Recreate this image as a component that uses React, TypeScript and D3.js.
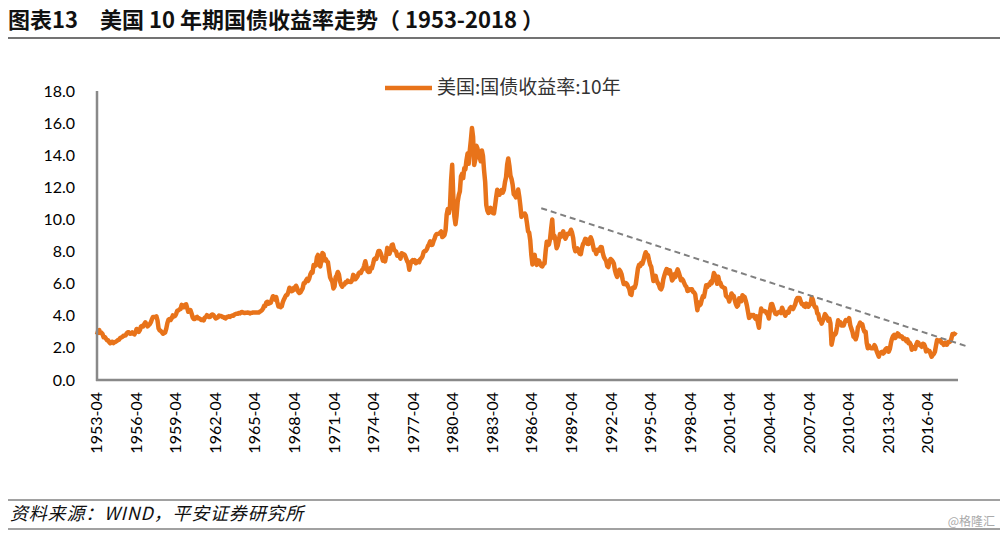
import React from "react";
import * as d3 from "d3";

// Monthly US 10Y Treasury yield (%), starting 1953-04
const y1950s: number[] = [
  2.83, 3.05, 3.11, 2.93, 2.95, 2.87, 2.66, 2.68, 2.59,
  2.48, 2.47, 2.37, 2.29, 2.37, 2.38, 2.30, 2.36, 2.38, 2.43, 2.48, 2.51,
  2.61, 2.65, 2.68, 2.75, 2.76, 2.78, 2.90, 2.97, 2.97, 2.88, 2.89, 2.96,
  2.90, 2.84, 2.96, 3.18, 3.07, 3.00, 3.11, 3.33, 3.38, 3.34, 3.49, 3.59,
  3.46, 3.34, 3.41, 3.48, 3.60, 3.80, 3.93, 3.93, 3.92, 3.97, 3.72, 3.21,
  3.09, 3.05, 2.98, 2.88, 2.92, 2.97, 3.20, 3.54, 3.76, 3.80, 3.74, 3.86,
  4.02, 3.96, 3.99, 4.12, 4.31, 4.34, 4.40, 4.43, 4.68, 4.53, 4.53, 4.69,
];
const y1960s: number[] = [
  4.72, 4.49, 4.25, 4.28, 4.35, 4.15, 3.90, 3.80, 3.80, 3.89, 3.93, 3.84,
  3.84, 3.78, 3.74, 3.78, 3.71, 3.88, 3.92, 4.04, 3.98, 3.92, 3.94, 4.06,
  4.08, 4.04, 3.93, 3.84, 3.87, 3.91, 4.01, 3.98, 3.98, 3.93, 3.92, 3.86,
  3.83, 3.92, 3.93, 3.97, 3.93, 3.99, 4.02, 4.00, 4.08, 4.11, 4.12, 4.13,
  4.17, 4.15, 4.22, 4.23, 4.20, 4.17, 4.19, 4.19, 4.20, 4.19, 4.15, 4.18,
  4.19, 4.21, 4.21, 4.20, 4.21, 4.21, 4.20, 4.25, 4.29, 4.35, 4.45, 4.62,
  4.61, 4.83, 4.87, 4.75, 4.78, 4.81, 5.02, 5.22, 5.18, 5.01, 5.16, 4.84,
  4.58, 4.63, 4.54, 4.59, 4.85, 5.02, 5.16, 5.28, 5.30, 5.48, 5.75, 5.70,
  5.53, 5.56, 5.74, 5.64, 5.87, 5.72, 5.50, 5.42, 5.46, 5.58, 5.70, 6.03,
  6.04, 6.19, 6.30, 6.17, 6.32, 6.57, 6.72, 6.69, 7.16, 7.10, 7.14, 7.65,
];
const y1970s: number[] = [
  7.79, 7.24, 7.07, 7.39, 7.91, 7.84, 7.46, 7.53, 7.39, 7.33, 6.84, 6.39,
  6.24, 6.11, 5.70, 5.83, 6.39, 6.52, 6.73, 6.58, 6.14, 5.93, 5.81, 5.93,
  5.95, 6.08, 6.07, 6.19, 6.13, 6.11, 6.11, 6.21, 6.55, 6.48, 6.28, 6.36,
  6.46, 6.64, 6.71, 6.67, 6.85, 6.90, 7.13, 7.40, 7.09, 6.79, 6.73, 6.74,
  6.99, 6.96, 7.21, 7.51, 7.58, 7.54, 7.81, 8.04, 8.04, 7.90, 7.68, 7.43,
  7.50, 7.39, 7.73, 8.23, 8.06, 7.86, 8.06, 8.40, 8.43, 8.14, 8.05, 8.00,
  7.74, 7.79, 7.73, 7.56, 7.90, 7.86, 7.83, 7.77, 7.59, 7.41, 7.29, 6.87,
  7.21, 7.39, 7.46, 7.37, 7.46, 7.28, 7.33, 7.40, 7.34, 7.52, 7.58, 7.69,
  7.96, 8.03, 8.04, 8.15, 8.35, 8.46, 8.64, 8.41, 8.42, 8.64, 8.81, 9.01,
  9.10, 9.10, 9.12, 9.18, 9.25, 8.91, 8.95, 9.03, 9.33, 10.30, 10.65, 10.39,
];
const y1980s: number[] = [
  10.80, 12.41, 13.40, 11.47, 10.18, 9.70, 10.25, 11.10, 11.51, 11.75, 12.68, 12.84,
  12.57, 13.19, 13.12, 13.68, 14.10, 13.47, 14.28, 14.94, 15.70, 15.15, 13.39, 13.72,
  14.59, 14.43, 13.86, 13.87, 13.62, 14.30, 13.95, 13.06, 12.34, 10.91, 10.55, 10.40,
  10.46, 10.72, 10.51, 10.40, 10.38, 10.85, 11.38, 11.85, 11.65, 11.54, 11.69, 11.83,
  11.67, 11.84, 12.32, 12.63, 13.41, 13.80, 13.36, 12.72, 12.52, 12.16, 11.57, 11.50,
  11.38, 11.51, 11.86, 11.43, 10.85, 10.16, 10.31, 10.33, 10.37, 10.24, 9.78, 9.26,
  9.19, 8.70, 7.78, 7.20, 7.71, 7.80, 7.30, 7.17, 7.45, 7.43, 7.25, 7.11,
  7.08, 7.25, 7.25, 8.02, 8.61, 8.40, 8.45, 8.76, 9.42, 10.00, 8.86, 8.99,
  8.67, 8.21, 8.37, 8.72, 9.09, 8.92, 9.06, 9.26, 8.98, 8.80, 8.96, 9.11,
  9.09, 9.17, 9.36, 9.18, 8.86, 8.28, 8.02, 8.11, 8.19, 8.01, 7.87, 7.84,
];
const y1990s: number[] = [
  8.21, 8.47, 8.59, 8.79, 8.76, 8.48, 8.47, 8.75, 8.89, 8.72, 8.39, 8.08,
  8.09, 7.85, 8.11, 8.04, 8.07, 8.28, 8.27, 7.90, 7.65, 7.53, 7.42, 7.09,
  7.03, 7.34, 7.54, 7.48, 7.39, 7.26, 6.84, 6.59, 6.42, 6.59, 6.87, 6.77,
  6.60, 6.26, 5.98, 5.97, 6.04, 5.96, 5.81, 5.68, 5.36, 5.30, 5.72, 5.77,
  5.75, 5.97, 6.48, 6.97, 7.18, 7.10, 7.30, 7.24, 7.46, 7.74, 7.96, 7.81,
  7.78, 7.47, 7.20, 7.06, 6.63, 6.17, 6.28, 6.49, 6.20, 6.04, 5.93, 5.71,
  5.65, 5.81, 6.27, 6.51, 6.74, 6.91, 6.87, 6.64, 6.83, 6.53, 6.20, 6.30,
  6.58, 6.42, 6.69, 6.89, 6.71, 6.49, 6.22, 6.30, 6.21, 6.03, 5.88, 5.81,
  5.54, 5.57, 5.65, 5.64, 5.65, 5.50, 5.46, 5.34, 4.81, 4.35, 4.83, 4.65,
  4.72, 5.00, 5.23, 5.18, 5.54, 5.90, 5.79, 5.94, 5.92, 6.11, 6.03, 6.28,
];
const y2000s: number[] = [
  6.66, 6.52, 6.26, 5.99, 6.44, 6.10, 6.05, 5.83, 5.80, 5.74, 5.72, 5.24,
  5.16, 5.10, 4.89, 5.14, 5.39, 5.28, 5.24, 4.97, 4.73, 4.57, 4.65, 5.09,
  5.04, 4.91, 5.28, 5.21, 5.16, 4.93, 4.65, 4.26, 3.87, 3.94, 4.05, 4.03,
  4.05, 3.90, 3.81, 3.96, 3.57, 3.25, 3.98, 4.45, 4.27, 4.29, 4.30, 4.27,
  4.15, 4.08, 3.83, 4.35, 4.72, 4.73, 4.50, 4.28, 4.13, 4.10, 4.19, 4.23,
  4.22, 4.17, 4.50, 4.34, 4.14, 4.00, 4.18, 4.26, 4.20, 4.46, 4.54, 4.47,
  4.42, 4.57, 4.72, 4.99, 5.11, 5.11, 5.09, 4.88, 4.72, 4.73, 4.60, 4.56,
  4.76, 4.72, 4.56, 4.69, 4.75, 5.15, 5.00, 4.67, 4.52, 4.53, 4.15, 4.10,
  3.74, 3.74, 3.51, 3.68, 3.88, 4.10, 4.01, 3.89, 3.69, 3.81, 3.53, 2.20,
  2.52, 2.87, 2.82, 2.93, 3.29, 3.72, 3.56, 3.59, 3.40, 3.39, 3.40, 3.59,
];
const y2010s: number[] = [
  3.73, 3.69, 3.73, 3.85, 3.42, 3.20, 3.01, 2.70, 2.65, 2.54, 2.76, 3.29,
  3.39, 3.58, 3.41, 3.46, 3.17, 3.00, 3.00, 2.30, 1.98, 2.15, 2.01, 1.98,
  1.97, 1.97, 2.17, 2.05, 1.80, 1.62, 1.45, 1.68, 1.72, 1.75, 1.65, 1.72,
  1.91, 1.98, 1.96, 1.76, 1.93, 2.30, 2.58, 2.74, 2.81, 2.62, 2.72, 2.90,
  2.86, 2.71, 2.72, 2.71, 2.56, 2.60, 2.54, 2.42, 2.53, 2.30, 2.33, 2.21,
  1.88, 1.98, 2.04, 1.94, 2.20, 2.36, 2.32, 2.17, 2.17, 2.07, 2.26, 2.24,
  2.09, 1.78, 1.89, 1.81, 1.81, 1.64, 1.45, 1.56, 1.63, 1.76, 2.14, 2.49,
  2.43, 2.42, 2.48, 2.30, 2.30, 2.19, 2.32, 2.21, 2.20, 2.36, 2.35, 2.40,
  2.58, 2.86, 2.84, 2.87, 2.98,
];

const tickLabels: string[] = [
  "1953-04", "1956-04", "1959-04", "1962-04", "1965-04", "1968-04", "1971-04",
  "1974-04", "1977-04", "1980-04", "1983-04", "1986-04", "1989-04", "1992-04",
  "1995-04", "1998-04", "2001-04", "2004-04", "2007-04", "2010-04", "2013-04",
  "2016-04",
];
const yTicks: number[] = [0, 2, 4, 6, 8, 10, 12, 14, 16, 18];
// Trend line: [month index, value]
const trendStart: [number, number] = [404, 10.7];
const trendEnd: [number, number] = [791, 2.1];

const seriesName = "美国:国债收益率:10年";

export default function App() {
  const yields = [...y1950s, ...y1960s, ...y1970s, ...y1980s, ...y1990s, ...y2000s, ...y2010s];
  const x = d3.scaleLinear().domain([0, 783]).range([97, 958]);
  const y = d3.scaleLinear().domain([0, 18]).range([380, 91]);
  const line = d3
    .line<number>()
    .x((_, i) => x(i))
    .y((d) => y(d))
    .curve(d3.curveLinear);
  const orange = "#E8731A";
  const axisColor = "#898989";
  const tickFont = "Lato, 'Open Sans', sans-serif";
  const cjk = "'Noto Sans CJK SC', sans-serif";

  return (
    <svg
      width={1000}
      height={534}
      style={{ position: "absolute", left: 0, top: 0, background: "#fff" }}
    >
      {/* Title */}
      <text x={8} y={28} fontFamily={cjk} fontWeight="bold" fontSize={22} fill="#111">
        图表13
      </text>
      <text x={100} y={28} fontFamily={cjk} fontWeight="bold" fontSize={22} fill="#111">
        美国 10 年期国债收益率走势（ 1953-2018 ）
      </text>
      <line x1={8} x2={1000} y1={38} y2={38} stroke="#444" strokeWidth={1.5} />

      {/* Legend */}
      <line x1={385} x2={432} y1={88} y2={88} stroke={orange} strokeWidth={4.5} />
      <text x={437} y={94} fontFamily={cjk} fontSize={19} fill="#333">
        {seriesName}
      </text>

      {/* Y tick labels */}
      {yTicks.map((t) => (
        <text
          key={t}
          x={75}
          y={y(t)}
          dy="0.35em"
          textAnchor="end"
          fontFamily={tickFont}
          fontSize={16}
          fill="#000"
        >
          {t.toFixed(1)}
        </text>
      ))}

      {/* X tick labels */}
      {tickLabels.map((lab, i) => {
        const px = x(i * 36);
        return (
          <text
            key={lab}
            transform={`translate(${px + 5},392) rotate(-90)`}
            textAnchor="end"
            fontFamily={tickFont}
            fontSize={16}
            fill="#000"
          >
            {lab}
          </text>
        );
      })}

      {/* Series */}
      <path d={line(yields) || ""} fill="none" stroke={orange} strokeWidth={4.5} strokeLinejoin="round" />

      {/* Trend */}
      <line
        x1={x(trendStart[0])}
        y1={y(trendStart[1])}
        x2={x(trendEnd[0])}
        y2={y(trendEnd[1])}
        stroke="#808080"
        strokeWidth={2}
        strokeDasharray="6,4"
      />

      {/* Axes */}
      <line x1={97} x2={97} y1={91} y2={381} stroke={axisColor} strokeWidth={2.5} />
      <line x1={96} x2={958} y1={380} y2={380} stroke={axisColor} strokeWidth={2.5} />

      {/* Footer */}
      <line x1={8} x2={1000} y1={500} y2={500} stroke="#444" strokeWidth={1.2} />
      <text x={10} y={520} fontFamily={cjk} fontStyle="italic" fontSize={18} letterSpacing={0.8} fill="#111">
        资料来源：WIND，平安证券研究所
      </text>
      <text x={995} y={526} textAnchor="end" fontFamily={cjk} fontSize={12} fill="#aaa">
        @格隆汇
      </text>
      <line x1={8} x2={1000} y1={529} y2={529} stroke="#444" strokeWidth={1.2} />
    </svg>
  );
}
